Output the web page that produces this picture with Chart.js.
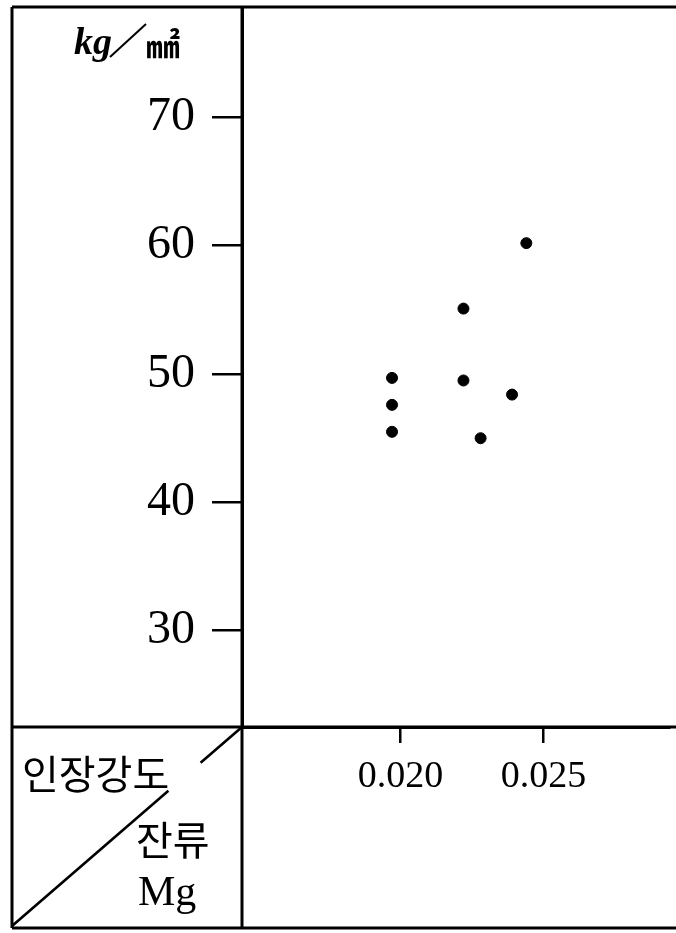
<!DOCTYPE html>
<html>
<head>
<meta charset="utf-8">
<script src="https://cdn.jsdelivr.net/npm/chart.js@4.4.1/dist/chart.umd.min.js"></script>
<style>
  html, body { margin: 0; padding: 0; background: #fff; }
  #wrap { width: 676px; height: 933px; }
</style>
</head>
<body>
<div id="wrap"><canvas id="chart" width="676" height="933"></canvas></div>
<script>
// residual Mg (%) vs tensile strength (kg/mm2)
const mgResidual = [0.0197, 0.0197, 0.0197, 0.0222, 0.0222, 0.0228, 0.0239, 0.0244];
const tensileStrength = [49.7, 47.6, 45.5, 55.1, 49.5, 45.0, 48.4, 60.2];
const xTicks = [0.020, 0.025];
const xTickLabels = ['0.020', '0.025'];
const yTicks = [30, 40, 50, 60, 70];
const yTickLabels = ['30', '40', '50', '60', '70'];
const unitText = ['kg', '㎟'];
const cornerTop = '인장강도';
const cornerBottom = ['잔류', 'Mg'];

const framePlugin = {
    id: 'frame',
    afterDraw(chart) {
        const ctx = chart.ctx;
        const a = chart.chartArea;
        const W = chart.width;
        const left = 12, bottom = 928;
        ctx.save();
        ctx.strokeStyle = '#000';
        ctx.lineWidth = 3;
        ctx.beginPath();
        ctx.moveTo(left, a.top); ctx.lineTo(W, a.top);
        ctx.moveTo(left, a.top); ctx.lineTo(left, bottom);
        ctx.moveTo(left, bottom); ctx.lineTo(W, bottom);
        ctx.moveTo(left, a.bottom); ctx.lineTo(W, a.bottom);
        ctx.moveTo(a.left, a.top); ctx.lineTo(a.left, bottom);
        ctx.stroke();

        // diagonal in the corner cell, broken where the text sits
        const x0 = left, y0 = bottom - 2, x1 = a.left, y1 = a.bottom;
        const pt = t => [x0 + (x1 - x0) * t, y0 + (y1 - y0) * t];
        ctx.lineWidth = 2.6;
        ctx.beginPath();
        let p = pt(0); ctx.moveTo(p[0], p[1]);
        p = pt(0.68); ctx.lineTo(p[0], p[1]);
        p = pt(0.82); ctx.moveTo(p[0], p[1]);
        p = pt(1); ctx.lineTo(p[0], p[1]);
        ctx.stroke();

        // unit label
        ctx.fillStyle = '#000';
        ctx.textBaseline = 'alphabetic';
        ctx.textAlign = 'left';
        ctx.font = 'italic bold 38px "Liberation Serif"';
        ctx.fillText(unitText[0], 74, 54);
        ctx.lineWidth = 2;
        ctx.beginPath();
        ctx.moveTo(110, 57); ctx.lineTo(146, 24);
        ctx.stroke();
        ctx.font = 'bold 34px "Noto Sans CJK KR"';
        ctx.fillText(unitText[1], 146, 58);

        // corner texts
        ctx.textBaseline = 'middle';
        ctx.font = '40px "Noto Sans CJK KR"';
        ctx.fillText(cornerTop, 22, 774);
        ctx.fillText(cornerBottom[0], 136, 840);
        ctx.textBaseline = 'alphabetic';
        ctx.font = '42px "Liberation Serif"';
        ctx.fillText(cornerBottom[1], 138, 905);
        ctx.restore();
    }
};

new Chart(document.getElementById('chart'), {
    type: 'scatter',
    data: {
        datasets: [{
            data: mgResidual.map((x, i) => ({ x: x, y: tensileStrength[i] })),
            backgroundColor: '#000',
            borderColor: '#000',
            pointRadius: 5.5,
            pointHoverRadius: 5.5
        }]
    },
    options: {
        responsive: false,
        animation: false,
        devicePixelRatio: 1,
        layout: { padding: { top: 7, right: 0, left: 0, bottom: 0 } },
        plugins: { legend: { display: false }, tooltip: { enabled: false } },
        scales: {
            x: {
                type: 'linear',
                position: 'bottom',
                min: 0.01445,
                max: 0.02941,
                afterFit(s) { s.height = 206; s.paddingLeft = 0; s.paddingRight = 0; },
                afterBuildTicks(s) { s.ticks = xTicks.map(v => ({ value: v })); },
                ticks: {
                    callback: (v, i) => xTickLabels[i],
                    font: { family: 'Liberation Serif', size: 38 },
                    color: '#000',
                    padding: 11,
                    maxRotation: 0,
                    autoSkip: false
                },
                grid: { drawOnChartArea: false, drawTicks: true, tickLength: 16, color: '#000', lineWidth: 2.5 },
                border: { display: true, color: '#000', width: 3 }
            },
            y: {
                type: 'linear',
                position: 'left',
                min: 22.5,
                max: 78.6,
                afterFit(s) { s.width = 242; s.paddingTop = 0; s.paddingBottom = 0; },
                afterBuildTicks(s) { s.ticks = yTicks.map(v => ({ value: v })); },
                ticks: {
                    callback: (v, i) => yTickLabels[i],
                    font: { family: 'Liberation Serif', size: 48 },
                    color: '#000',
                    padding: 17,
                    autoSkip: false
                },
                grid: { drawOnChartArea: false, drawTicks: true, tickLength: 30, color: '#000', lineWidth: 2.5 },
                border: { display: true, color: '#000', width: 3 }
            }
        }
    },
    plugins: [framePlugin]
});
</script>
</body>
</html>
